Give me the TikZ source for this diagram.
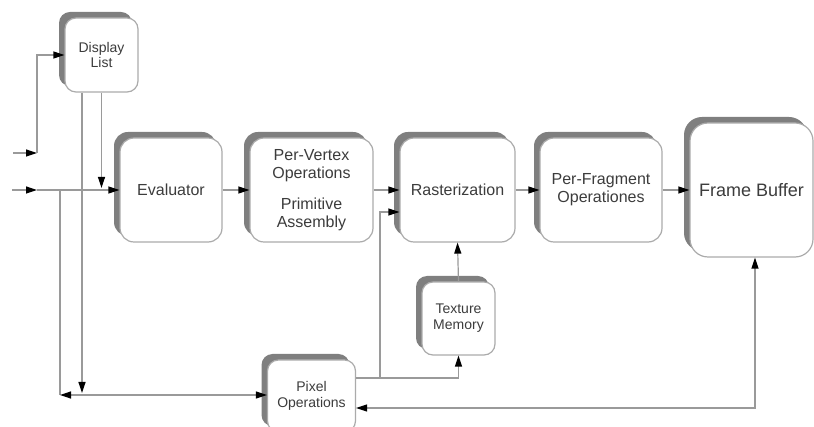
\documentclass[tikz,border=0pt]{standalone}
\usepackage{fontspec}
\setmainfont{Liberation Sans}
\usetikzlibrary{arrows.meta,shadows}
\definecolor{linegray}{HTML}{9A9A9A}
\definecolor{boxgray}{HTML}{ABABAB}
\definecolor{shadowgray}{HTML}{7F7F7F}
\definecolor{textgray}{HTML}{3C3C3C}
\begin{document}
\begin{tikzpicture}[x=1pt,y=-1pt,line width=1.2pt,
                        stage/.style={rectangle,rounded corners=14pt,draw=boxgray,fill=white,
                            text=textgray,align=center,font=\fontsize{16}{18}\selectfont,
                            drop shadow={shadow xshift=-6pt,shadow yshift=6pt,fill=shadowgray,opacity=1}},
                        small stage/.style={stage,rounded corners=11pt,font=\fontsize{14}{16}\selectfont},
                        link/.style={draw=linegray},
                        flow/.style={draw=linegray,-{Triangle[length=11pt,width=7pt,black]}},
                        both/.style={draw=linegray,{Triangle[length=11pt,width=7pt,black]}-{Triangle[length=11pt,width=7pt,black]}}]

    \useasboundingbox (0,0) rectangle (814,427);

    % Define stages
    \node[small stage,minimum width=73pt,minimum height=74pt] (disp) at (101.5,55) {Display\\List};
    \node[stage,minimum width=102pt,minimum height=104pt] (eval) at (171,190) {Evaluator};
    \node[stage,minimum width=123pt,minimum height=104pt] (vert) at (311.5,190) {Per-Vertex\\Operations\\[13pt]Primitive\\Assembly};
    \node[stage,minimum width=115pt,minimum height=104pt] (rast) at (457.5,190) {Rasterization};
    \node[stage,minimum width=122pt,minimum height=104pt] (frag) at (601,190) {Per-Fragment\\Operationes};
    \node[stage,rounded corners=18pt,minimum width=123pt,minimum height=134pt,
          font=\fontsize{18}{20}\selectfont] (fb) at (751.5,190) {Frame Buffer};
    \node[small stage,minimum width=73pt,minimum height=73pt] (tex) at (458.5,318.5) {Texture\\Memory};
    \node[small stage,minimum width=88pt,minimum height=72pt] (pix) at (311.5,396) {Pixel\\Operations};

    % Inputs
    \coordinate (in1) at (13,153);
    \coordinate (bend1) at (37,153);
    \coordinate (in2) at (12,190);
    \coordinate (mid2) at (37,190);
    \draw[flow] (in1) -- (bend1);
    \draw[flow] (bend1) |- (disp.west);
    \draw[flow] (in2) -- (mid2);
    \draw[flow] (mid2) -- (eval.west);

    % Display list outputs
    \coordinate (dl1) at (82,393);
    \draw[flow] (disp.south -| dl1) -- (dl1);
    \draw[flow,shorten >=2pt] (disp.south) -- (disp.south |- mid2);

    % Pipeline
    \draw[flow] (eval.east) -- (vert.west);
    \draw[flow] (vert.east) -- (rast.west);
    \draw[flow] (rast.east) -- (frag.west);
    \draw[flow] (frag.east) -- (fb.west);

    % Pixel path
    \coordinate (split) at (60,190);
    \coordinate (back) at (60,395);
    \draw[link] (split) -- (back);
    \draw[both] (back) -- (pix.west |- back);
    \coordinate (up) at (380,378);
    \draw[flow] (pix.east |- up) -| (tex.south);
    \draw[flow] (up) |- ([yshift=-22pt]rast.west);
    \draw[flow] (tex.north) -- (rast.south);
    \coordinate (fbret) at (755,408);
    \draw[both] (pix.east |- fbret) -- (fbret) -- (fbret |- fb.south);

\end{tikzpicture}
\end{document}
